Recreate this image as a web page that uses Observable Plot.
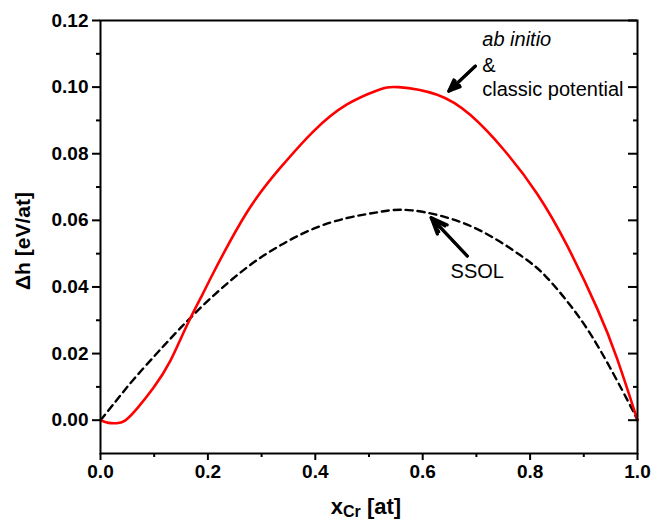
<!DOCTYPE html>
<html>
<head>
<meta charset="utf-8">
<script src="https://cdn.jsdelivr.net/npm/d3@7"></script>
<script src="https://cdn.jsdelivr.net/npm/@observablehq/plot@0.6"></script>
<style>
  html, body { margin: 0; padding: 0; background: #fff; }
  #chart svg { display: block; }
</style>
</head>
<body>
<div id="chart"></div>
<script>
// ab initio & classic potential (red solid)
const abX = [0, 0.015, 0.03, 0.045, 0.068, 0.099, 0.13, 0.161, 0.19, 0.211, 0.273, 0.335, 0.397, 0.459, 0.515, 0.555, 0.627, 0.689, 0.751, 0.813, 0.869, 0.925, 0.962, 1.0];
const abY = [0, -0.0008, -0.0009, -0.0002, 0.0035, 0.0098, 0.0178, 0.0285, 0.0378, 0.0445, 0.0625, 0.0758, 0.0868, 0.0948, 0.0990, 0.1000, 0.0977, 0.0916, 0.0812, 0.0680, 0.0524, 0.0335, 0.0185, 0];
// SSOL (black dashed)
const ssolX = [0, 0.031, 0.062, 0.099, 0.124, 0.149, 0.174, 0.211, 0.273, 0.335, 0.397, 0.459, 0.515, 0.58, 0.689, 0.782, 0.829, 0.881, 0.931, 0.981, 1.0];
const ssolY = [0, 0.0062, 0.0123, 0.0190, 0.0234, 0.0277, 0.0318, 0.0375, 0.0459, 0.0525, 0.0575, 0.0607, 0.0624, 0.0630, 0.0583, 0.0495, 0.0432, 0.0332, 0.0209, 0.0061, 0];

const xMajor = [0, 0.2, 0.4, 0.6, 0.8, 1.0];
const xMinor = [0.1, 0.3, 0.5, 0.7, 0.9];
const yMajor = [0, 0.02, 0.04, 0.06, 0.08, 0.10, 0.12];
const yMinor = [0.01, 0.03, 0.05, 0.07, 0.09, 0.11];

const annLabels = ["ab initio", "&", "classic potential", "SSOL"];
const annX = [0.711, 0.711, 0.711, 0.652];
const annY = [0.1123, 0.1045, 0.0973, 0.0427];

const arrowX1 = [0.698, 0.683];
const arrowY1 = [0.1063, 0.0493];
const arrowX2 = [0.6486, 0.6158];
const arrowY2 = [0.0988, 0.0608];

const ab = abX.map((x, i) => ({x, y: abY[i]}));
const ssol = ssolX.map((x, i) => ({x, y: ssolY[i]}));
const ann = annLabels.map((t, i) => ({t, x: annX[i], y: annY[i]}));
const arrows = arrowX1.map((x1, i) => ({x1, y1: arrowY1[i], x2: arrowX2[i], y2: arrowY2[i]}));

const W = 652, H = 521;
const mL = 100, mR = 15, mT = 20, mB = 68;
const innerW = W - mL - mR;
const font = "'Liberation Sans', Arial, Helvetica, sans-serif";

const plot = Plot.plot({
  width: W,
  height: H,
  marginLeft: mL,
  marginRight: mR,
  marginTop: mT,
  marginBottom: mB,
  style: {fontFamily: font, color: "#000", background: "#fff", overflow: "visible"},
  x: {domain: [0, 1], axis: null},
  y: {domain: [-0.01, 0.12], axis: null},
  marks: [
    Plot.line(ssol, {x: "x", y: "y", stroke: "#000", strokeWidth: 2.4, strokeDasharray: "7,5", curve: "natural"}),
    Plot.line(ab, {x: "x", y: "y", stroke: "#ff0000", strokeWidth: 2.6, curve: "natural"}),
    Plot.frame({stroke: "#000", strokeWidth: 2}),
    Plot.axisX({ticks: xMajor, tickSize: 7, tickPadding: 4, strokeWidth: 2, tickFormat: d3.format(".1f"), fontSize: 19, fontWeight: "bold", label: null}),
    Plot.axisX({ticks: xMinor, tickSize: 4, strokeWidth: 2, fill: "none", label: null}),
    Plot.axisY({ticks: yMajor, tickSize: 8, tickPadding: 4, strokeWidth: 2, tickFormat: d3.format(".2f"), fontSize: 19, fontWeight: "bold", label: null}),
    Plot.axisY({ticks: yMinor, tickSize: 4, strokeWidth: 2, fill: "none", label: null}),
    Plot.tickY(yMajor, {y: d => d, insetLeft: innerW - 9, stroke: "#000", strokeWidth: 2}),
    Plot.tickY(yMinor, {y: d => d, insetLeft: innerW - 4, stroke: "#000", strokeWidth: 2}),
    Plot.arrow(arrows, {x1: "x1", y1: "y1", x2: "x2", y2: "y2", stroke: "#000", strokeWidth: 3.2, headLength: 13, headAngle: 45}),
    Plot.arrow(arrows, {x1: "x1", y1: "y1", x2: "x2", y2: "y2", stroke: "#000", strokeWidth: 3, headLength: 8, headAngle: 30}),
    Plot.text(ann, {x: "x", y: "y", text: "t", textAnchor: "start", lineAnchor: "bottom", fontSize: 20, fill: "#000"})
  ]
});

const svg = d3.select(plot);
svg.selectAll("text").filter(function() { return this.textContent === "ab initio"; }).attr("font-style", "italic");

// y-axis label
svg.append("text")
  .attr("transform", "translate(30,241) rotate(-90)")
  .attr("text-anchor", "middle")
  .attr("font-family", font)
  .attr("font-size", 21)
  .attr("font-weight", "bold")
  .attr("fill", "#000")
  .text("Δh [eV/at]");

// x-axis label with subscript
const xl = svg.append("text")
  .attr("x", 366)
  .attr("y", 514)
  .attr("text-anchor", "middle")
  .attr("font-family", font)
  .attr("font-size", 22)
  .attr("font-weight", "bold")
  .attr("fill", "#000");
xl.append("tspan").text("x");
xl.append("tspan").attr("font-size", 16).attr("dy", 3).text("Cr");
xl.append("tspan").attr("dy", -3).text(" [at]");

document.getElementById("chart").appendChild(plot);
</script>
</body>
</html>
